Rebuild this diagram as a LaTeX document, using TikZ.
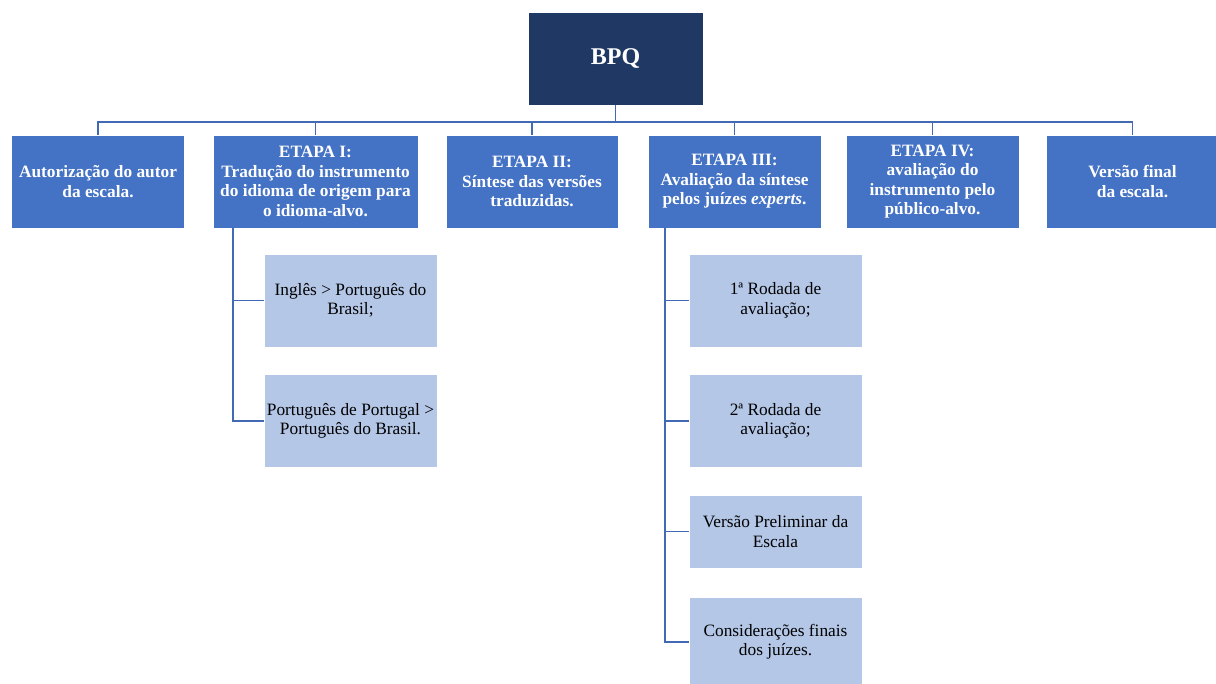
\documentclass[tikz,border=0pt]{standalone}
\usepackage{fontspec}
\setmainfont{Liberation Serif}
\usetikzlibrary{positioning}
\definecolor{navy}{HTML}{203864}
\definecolor{stageblue}{HTML}{4472C4}
\definecolor{subblue}{HTML}{B4C7E7}
\definecolor{linkblue}{HTML}{4169B4}

\begin{document}
\begin{tikzpicture}[x=0.75pt, y=-0.75pt,
  box/.style = {inner sep=1pt, outer sep=0pt, align=center,
      minimum height=69.75pt, draw=white, line width=0.4pt},
  topbox/.style = {box, fill=navy, text=white, minimum width=131.25pt,
      font=\fontsize{18}{22}\selectfont\bfseries},
  stage/.style = {box, fill=stageblue, text=white, minimum width=129.75pt,
      font=\fontsize{13}{14.6}\selectfont\bfseries},
  sub/.style = {box, fill=subblue, text=black, minimum width=129.75pt,
      font=\fontsize{13}{14.6}\selectfont},
  link/.style = {draw=linkblue, line width=1.2pt}
  ]
  \useasboundingbox (0,0) rectangle (1216,684);
  \node[topbox] (bpq) at (615.5,58.5) {BPQ};
  %
  \node[stage] (aut) at (98,181.5) {Autorização do autor\\da escala.};
  \node[stage, minimum width=153.75pt] (e1) at (315.5,181.5)
    {ETAPA I:\\Tradução do instrumento\\do idioma de origem para\\o idioma-alvo.};
  \node[stage, minimum width=129pt] (e2) at (532,181.5)
    {ETAPA II:\\Síntese das versões\\traduzidas.};
  \node[stage] (e3) at (734.5,181.5)
    {ETAPA III:\\Avaliação da síntese\\pelos juízes \textit{experts}.};
  \node[stage] (e4) at (932.5,181.5)
    {ETAPA IV:\\avaliação do\\instrumento pelo\\público-alvo.};
  \node[stage] (fin) at (1132.5,181.5) {Versão final\\da escala.};
  %
  \node[sub] (e1a) at (350.5,300.5) {Inglês > Português do\\Brasil;};
  \node[sub] (e1b) at (350.5,421) {Português de Portugal >\\Português do Brasil.};
  \node[sub] (e3a) at (775.5,300.5) {1ª Rodada de\\avaliação;};
  \node[sub] (e3b) at (775.5,421) {2ª Rodada de\\avaliação;};
  \node[sub, minimum height=54.75pt] (e3c) at (775.5,531.5)
    {Versão Preliminar da\\Escala};
  \node[sub, minimum height=67.5pt] (e3d) at (775.5,642)
    {Considerações finais\\dos juízes.};
  %
  \coordinate (bus) at (0,122);
  \coordinate (t1) at (232.7,228);
  \coordinate (t3) at (665,228);
  \draw[link] (aut.north) -- (aut.north |- bus) -- (fin.north |- bus) -- (fin.north);
  \foreach \n in {bpq.south, e1.north, e2.north, e3.north, e4.north}
    \draw[link] (\n) -- (\n |- bus);
  \draw[link] (t1) |- (e1b.west);
  \draw[link] (e1a.west) -- (e1a.west -| t1);
  \draw[link] (t3) |- (e3d.west);
  \foreach \n in {e3a, e3b, e3c}
    \draw[link] (\n.west) -- (\n.west -| t3);
\end{tikzpicture}
\end{document}
